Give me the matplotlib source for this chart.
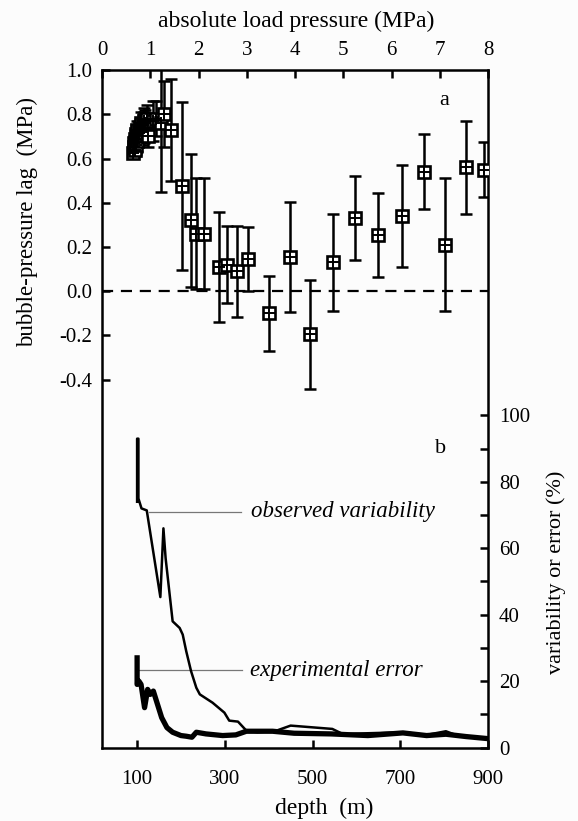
import numpy as np
import matplotlib
matplotlib.use("Agg")
import matplotlib.pyplot as plt
from matplotlib.ticker import FixedLocator

plt.rcParams['font.family'] = ['Liberation Serif', 'DejaVu Serif']

# panel a: bubble-pressure lag vs absolute load pressure
pressure = [0.65, 0.66, 0.67, 0.68, 0.69, 0.70, 0.71, 0.72, 0.73, 0.74, 0.76, 0.78, 0.80,
            0.82, 0.84, 0.86, 0.88, 0.90, 0.93, 0.96,
            1.05, 1.12, 1.22, 1.29, 1.43, 1.65, 1.84, 1.95, 2.12, 2.43, 2.60, 2.80, 3.02,
            3.46, 3.89, 4.32, 4.78, 5.24, 5.73, 6.21, 6.68, 7.11, 7.54, 7.91]
lag = [0.625, 0.65, 0.67, 0.64, 0.69, 0.66, 0.71, 0.68, 0.73, 0.70, 0.72, 0.74, 0.76,
       0.72, 0.75, 0.77, 0.74, 0.76, 0.78, 0.70,
       0.77, 0.78, 0.76, 0.80, 0.73, 0.475, 0.32, 0.26, 0.26, 0.11, 0.12, 0.09, 0.145,
       -0.10, 0.155, -0.195, 0.13, 0.33, 0.255, 0.34, 0.54, 0.21, 0.56, 0.55]
lag_err = [0.02, 0.03, 0.03, 0.03, 0.04, 0.04, 0.04, 0.05, 0.04, 0.05, 0.05, 0.04, 0.05,
           0.06, 0.05, 0.06, 0.07, 0.06, 0.06, 0.05,
           0.09, 0.08, 0.31, 0.15, 0.23, 0.38, 0.30, 0.25, 0.25, 0.25, 0.175, 0.205, 0.146,
           0.17, 0.25, 0.245, 0.22, 0.19, 0.19, 0.23, 0.17, 0.30, 0.21, 0.125]

pressure_ticks = [0, 1, 2, 3, 4, 5, 6, 7, 8]
lag_ticks = [-0.4, -0.2, 0.0, 0.2, 0.4, 0.6, 0.8, 1.0]
lag_labels = ["-0.4", "-0.2", "0.0", "0.2", "0.4", "0.6", "0.8", "1.0"]

# panel b: variability / error vs depth
obs_depth = [100, 100, 103, 103, 110, 122, 153, 160, 165, 181, 197, 204, 212, 223, 235, 243,
             272, 299, 310, 330, 349, 374, 416, 450, 545, 570, 600, 706, 760, 804, 830, 898]
obs_pct = [74, 93, 93, 75, 72, 71.4, 45.3, 66, 57, 38, 36, 34, 29, 23, 18, 16,
           13.5, 10.5, 8.1, 7.8, 5.1, 4.6, 5.0, 6.6, 5.6, 4.0, 4.2, 4.6, 3.8, 4.9, 3.6, 2.7]

err_depth = [100, 100, 104, 109, 117, 124, 130, 137, 156, 168, 181, 200, 212, 225, 235, 257,
             295, 325, 349, 409, 458, 542, 626, 706, 760, 804, 850, 898]
err_pct = [27, 19, 20, 19, 12, 17.5, 16, 17, 9, 6, 4.6, 3.6, 3.4, 3.1, 4.6, 4.1,
           3.6, 3.8, 4.9, 4.9, 4.3, 4.1, 3.6, 4.4, 3.6, 4.0, 3.3, 2.7]

depth_ticks = [100, 300, 500, 700, 900]
pct_ticks = [0, 20, 40, 60, 80, 100]
pct_minor = [10, 30, 50, 70, 90]

fig = plt.figure(figsize=(5.78, 8.21), dpi=100)
fig.patch.set_facecolor('#fcfcfc')
pos = [0.1765, 0.0895, 0.6678, 0.8252]

ax = fig.add_axes(pos)
ax.set_facecolor('none')
ax.set_xlim(0, 8)
ax.set_ylim(-2.063, 1.0)
for s in ax.spines.values():
    s.set_linewidth(1.8)
ax.xaxis.tick_top()
ax.set_xticks(pressure_ticks)
ax.set_yticks(lag_ticks)
ax.set_yticklabels(lag_labels)
ax.tick_params(direction='in', length=6, width=1.8, labelsize=15, pad=7)

ax.axhline(0, color='black', lw=1.6, ls=(0, (5, 3.5)), zorder=1)
ax.errorbar(pressure, lag, yerr=lag_err, fmt='none', ecolor='black', elinewidth=1.8,
            capsize=4.5, capthick=1.8, zorder=2)
ax.plot(pressure, lag, 's', ms=8.3, mfc='white', mec='black', mew=1.9, zorder=3)
ax.plot(pressure, lag, '+', ms=8.3, color='black', mew=1.4, zorder=4)
ax.text(7.1, 0.86, "a", fontsize=16, ha='center', va='center')

axb = fig.add_axes(pos, frameon=False)
axb.set_facecolor('none')
axb.set_xlim(20, 900)
axb.yaxis.tick_right()
axb.set_xticks(depth_ticks)
axb.set_yticks(pct_ticks)
axb.yaxis.set_minor_locator(FixedLocator(pct_minor))
axb.set_ylim(0, 204)
axb.tick_params(direction='in', length=6, width=1.8, labelsize=15, pad=8)
axb.tick_params(axis='y', which='minor', direction='in', length=6, width=1.8)
axb.tick_params(axis='x', pad=16)

axb.plot(obs_depth, obs_pct, color='black', lw=1.8, zorder=3)
axb.plot(err_depth, err_pct, color='black', lw=3.8, zorder=3, solid_joinstyle='round')
axb.plot([126, 336], [71, 71], color='#777777', lw=0.9)
axb.text(360, 71, "observed variability", style='italic', fontsize=16.5, va='center')
axb.plot([105, 339], [23.2, 23.2], color='#777777', lw=0.9)
axb.text(357, 23.2, "experimental error", style='italic', fontsize=16.5, va='center')
axb.text(791, 90, "b", fontsize=16, ha='center', va='center')

fig.text(296 / 578, 1 - 21 / 821, "absolute load pressure (MPa)", fontsize=17,
         ha='center', va='center')
fig.text(27 / 578, 1 - 222 / 821, "bubble-pressure lag  (MPa)", fontsize=16.5,
         rotation=90, ha='center', va='center')
fig.text(556 / 578, 1 - 572 / 821, "variability or error (%)", fontsize=16,
         rotation=90, ha='center', va='center')
fig.text(324 / 578, 1 - 808 / 821, "depth  (m)", fontsize=17, ha='center', va='center')

fig.savefig("out.png", dpi=100, facecolor=fig.get_facecolor())
